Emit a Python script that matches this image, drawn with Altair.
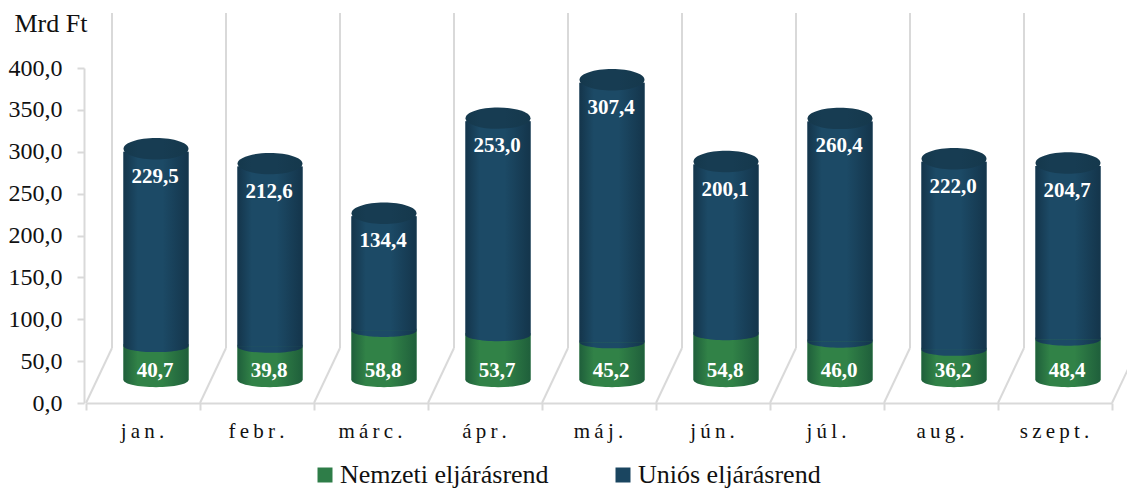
import altair as alt
import pandas as pd

months = ["jan.", "febr.", "márc.", "ápr.", "máj.", "jún.", "júl.", "aug.", "szept."]
national = [40.7, 39.8, 58.8, 53.7, 45.2, 54.8, 46.0, 36.2, 48.4]
eu = [229.5, 212.6, 134.4, 253.0, 307.4, 200.1, 260.4, 222.0, 204.7]
series_names = ["Nemzeti eljárásrend", "Uniós eljárásrend"]
y_ticks = [0, 50, 100, 150, 200, 250, 300, 350, 400]

FONT = "Liberation Serif"
GRID = "#d9d9d9"
DX, DY = 13, -25      # front plane shift of the cylinders
LOW = DY + 2          # lower rims sit a little lower (perspective)
BW = 65

def fmt(v):
    return f"{v:.1f}".replace(".", ",")

rows = []
for m, a, b in zip(months, national, eu):
    rows.append(dict(month=m, series=series_names[0], start=0, end=a, label=fmt(a)))
    rows.append(dict(month=m, series=series_names[1], start=a, end=a + b, label=fmt(b)))
df = pd.DataFrame(rows)
wide = pd.DataFrame(dict(month=months, zero=[0] * 9, top=[400] * 9))

def grad(edge, mid):
    return {"gradient": "linear", "x1": 0, "y1": 0, "x2": 1, "y2": 0,
            "stops": [{"offset": 0, "color": edge},
                      {"offset": 0.22, "color": mid},
                      {"offset": 0.6, "color": mid},
                      {"offset": 1, "color": edge}]}

G_GREEN = grad("#1f5f3b", "#318247")
G_BLUE = grad("#14354b", "#1c4a66")
G_TOP = grad("#15384c", "#173c52")

x_scale = alt.Scale(domain=months, paddingInner=0, paddingOuter=0)
y_scale = alt.Scale(domain=[0, 400], nice=False)
X = alt.X("month:N", scale=x_scale, sort=months, title=None)
Y0 = alt.Y("zero:Q", scale=y_scale)

HALF_BOTTOM_LOW = "M-1,0A1,0.22,0,0,0,1,0Z"
HALF_BOTTOM_MID = "M-1,0A1,0.19,0,0,0,1,0Z"
TOP_ELL = "M-1,0A1,0.33,0,1,1,1,0A1,0.33,0,1,1,-1,0Z"
SZ = BW * BW

# back-wall lines carry the axes
back = alt.Chart(wide).mark_rule(color=GRID, strokeWidth=2, xOffset=-31, x2Offset=-31,
                                 yOffset=-55, y2Offset=-55).encode(
    x=alt.X("month:N", scale=x_scale, sort=months, title=None,
            axis=alt.Axis(tickBand="extent", labelAngle=0, labelFont=FONT, labelFontSize=21,
                          labelColor="#111111", labelPadding=10, labelOffset=-1, tickColor=GRID,
                          tickSize=7, tickWidth=2, domainColor=GRID, domainWidth=2, grid=False,
                          labelExpr="join(split(datum.label,''),'\u2009')")),
    y=alt.Y("zero:Q", scale=y_scale, title="Mrd Ft",
            axis=alt.Axis(values=y_ticks, offset=2, labelFont=FONT, labelFontSize=24,
                          labelColor="#111111", labelPadding=15, tickColor=GRID, tickSize=7,
                          tickWidth=2, domainColor=GRID, domainWidth=2, grid=False,
                          labelExpr="replace(format(datum.value,'.1f'),'.',',')",
                          titleAngle=0, titleFont=FONT, titleFontSize=26, titleFontWeight="normal",
                          titleColor="#111111", titleAlign="left", titleBaseline="middle",
                          titleX=-70, titleY=-45)),
    y2=alt.Y2("top:Q"),
)
floor = alt.Chart(wide).mark_rule(color=GRID, strokeWidth=2, xOffset=-57, x2Offset=-31,
                                  y2Offset=-55).encode(x=X, x2=alt.X2("month:N"), y=Y0, y2=alt.Y2("zero:Q"))
floor_end = alt.Chart(wide).transform_filter("datum.month === 'szept.'").mark_rule(
    color=GRID, strokeWidth=2, xOffset=57, x2Offset=83, y2Offset=-55
).encode(x=X, x2=alt.X2("month:N"), y=Y0, y2=alt.Y2("zero:Q"))

YS = alt.Y("start:Q", scale=y_scale)
YE = alt.Y("end:Q", scale=y_scale)

plain = alt.Chart(df).mark_bar(width=BW, xOffset=DX, yOffset=LOW, y2Offset=DY).encode(
    x=X, y=YS, y2=alt.Y2("end:Q"),
    color=alt.Color("series:N", title=None,
                    scale=alt.Scale(domain=series_names, range=["#2e7d48", "#1a4560"]),
                    legend=alt.Legend(orient="none", legendX=226, legendY=394, direction="horizontal",
                                      symbolType="square", symbolSize=225, symbolStrokeWidth=0,
                                      labelFont=FONT, labelFontSize=26, labelColor="#111111",
                                      labelOffset=2, columnPadding=61, labelLimit=400)),
)
green = df[df.series == series_names[0]]
blue = df[df.series == series_names[1]]

green_bar = alt.Chart(green).mark_bar(fill=G_GREEN, width=BW, xOffset=DX, yOffset=LOW, y2Offset=LOW).encode(
    x=X, y=YS, y2=alt.Y2("end:Q"))
blue_bar = alt.Chart(blue).mark_bar(fill=G_BLUE, width=BW, xOffset=DX, yOffset=LOW, y2Offset=DY).encode(
    x=X, y=YS, y2=alt.Y2("end:Q"))

pt = dict(filled=True, opacity=1, size=SZ, strokeWidth=0, xOffset=DX)
green_base = alt.Chart(green).mark_point(shape=HALF_BOTTOM_LOW, fill=G_GREEN, yOffset=LOW, **pt).encode(x=X, y=YS)
blue_base = alt.Chart(blue).mark_point(shape=HALF_BOTTOM_MID, fill=G_BLUE, yOffset=LOW, **pt).encode(x=X, y=YS)
blue_top = alt.Chart(blue).mark_point(shape=TOP_ELL, fill=G_TOP, yOffset=DY - 3, **pt).encode(x=X, y=YE)

txt = dict(font=FONT, fontSize=21, fontWeight="bold", color="white", baseline="middle", dx=DX - 1)
green_lab = alt.Chart(green).mark_text(dy=-32, **txt).encode(x=X, y=YS, text="label:N")
blue_lab = alt.Chart(blue).mark_text(dy=DY + 25, **txt).encode(x=X, y=YE, text="label:N")

chart = alt.layer(back, floor, floor_end, plain, green_bar, green_base, blue_bar, blue_base,
                  blue_top, green_lab, blue_lab).properties(
    width=1026, height=335,
    autosize=alt.AutoSizeParams(type="none"),
    padding={"left": 78, "top": 60, "right": 15, "bottom": 85},
    background="white",
).configure_view(stroke=None)

chart.save("out.html", embed_options={"renderer": "svg", "actions": False})
